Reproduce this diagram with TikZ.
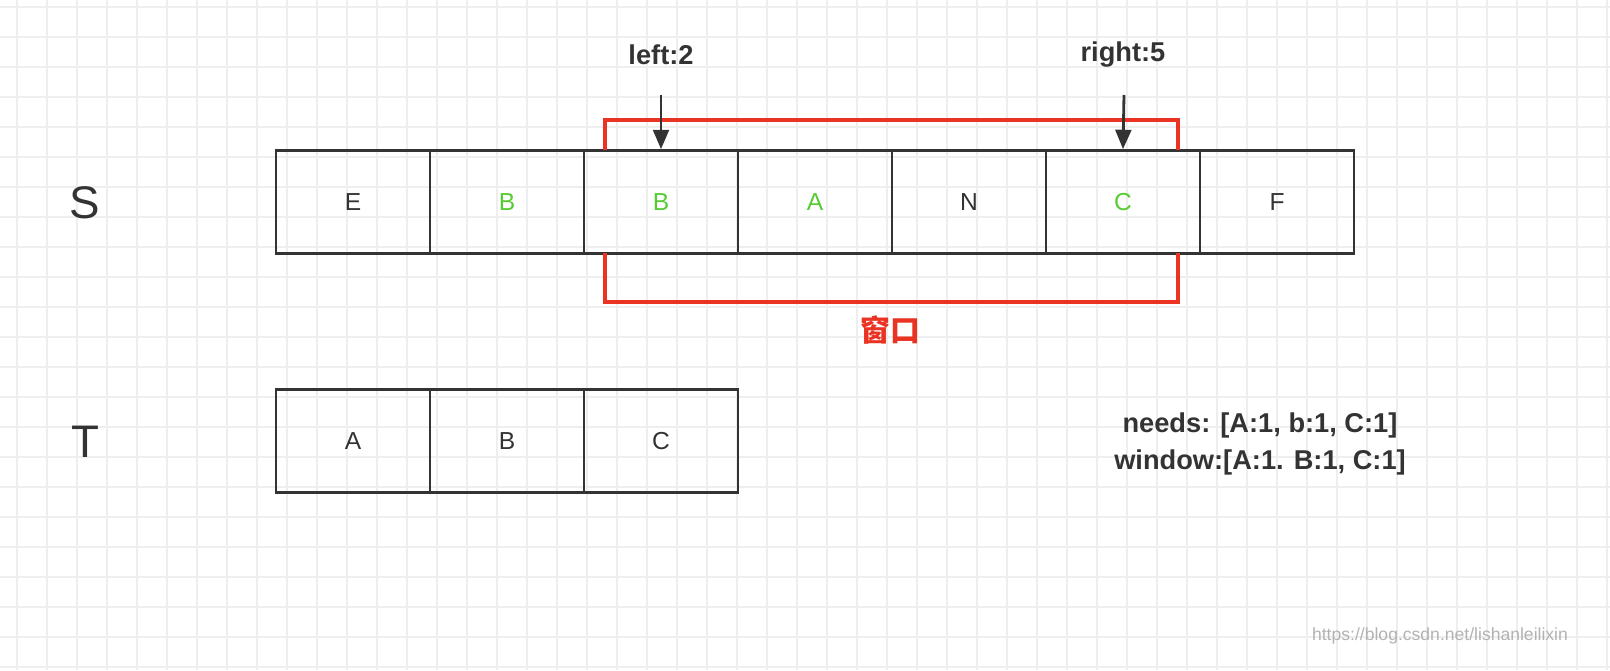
\documentclass[tikz,border=0pt]{standalone}
\usepackage{fontspec}
\setmainfont{Liberation Sans}
\newfontfamily\cjk{Noto Sans CJK SC}
\usetikzlibrary{arrows.meta}
\definecolor{gridgray}{RGB}{238,238,238}
\definecolor{cellgreen}{RGB}{86,204,50}
\definecolor{winred}{RGB}{234,51,35}
\definecolor{inkgray}{RGB}{51,51,51}
\tikzset{
  cell/.style={draw=inkgray, line width=1.6pt, minimum width=3.08cm, minimum height=2.06cm, inner sep=0pt, font=\fontsize{14}{17}\selectfont, text=inkgray},
  hit/.style={cell, text=cellgreen},
  rowlabel/.style={font=\fontsize{26}{30}\selectfont, text=inkgray},
  ptr/.style={-{Triangle[length=11pt,width=9pt]}, line width=1.6pt, draw=inkgray},
  note/.style={font=\bfseries\fontsize{15.5}{19}\selectfont, text=inkgray},
  frame/.style={winred, line width=2pt}
}
\begin{document}
\begin{tikzpicture}[x=0.02cm, y=-0.02cm]
\useasboundingbox (0,0) rectangle (1610,670);
% background grid
\foreach \x in {17,47,...,1610} \draw[gridgray, line width=0.6pt] (\x,0) -- (\x,670);
\foreach \y in {7,37,...,670} \draw[gridgray, line width=0.6pt] (0,\y) -- (1610,\y);

% S row
\node[cell] (s1) at (353,202) {E};
\node[hit]  (s2) at (507,202) {B};
\node[hit]  (s3) at (661,202) {B};
\node[hit]  (s4) at (815,202) {A};
\node[cell] (s5) at (969,202) {N};
\node[hit]  (s6) at (1123,202) {C};
\node[cell] (s7) at (1277,202) {F};

% T row
\node[cell] (t1) at (353,441) {A};
\node[cell] (t2) at (507,441) {B};
\node[cell] (t3) at (661,441) {C};

\node[rowlabel] (slab) at (85,203) {S};
\node[rowlabel] (tlab) at (85,442) {T};

% window
\coordinate (wa) at (605,150);
\coordinate (wb) at (1178,150);
\coordinate (wc) at (605,253);
\coordinate (wd) at (1178,253);
\draw[frame] (wa) -- (605,120) -- (1178,120) -- (wb);
\draw[frame] (wc) -- (605,302) -- (1178,302) -- (wd);
\node[font=\cjk\bfseries\fontsize{17}{20}\selectfont, text=winred] (win) at (890,330) {窗口};

% pointers
\node[note] (lp) at (661,55) {left:2};
\node[note] (rp) at (1123,55) {right:5};
\coordinate (la) at (661,95);
\coordinate (ra) at (1124,95);
\draw[ptr] (la) -- (s3.north);
\draw[ptr] (ra) -- (s6.north);

\node[note] (needs) at (1260,425) {needs: [A:1, b:1, C:1]};
\node[note] (wind) at (1260,462) {window:[A:1. B:1, C:1]};

\node[font=\fontsize{10}{12}\selectfont, text=gray!60] (url) at (1440,636) {https://blog.csdn.net/lishanleilixin};
\end{tikzpicture}
\end{document}
